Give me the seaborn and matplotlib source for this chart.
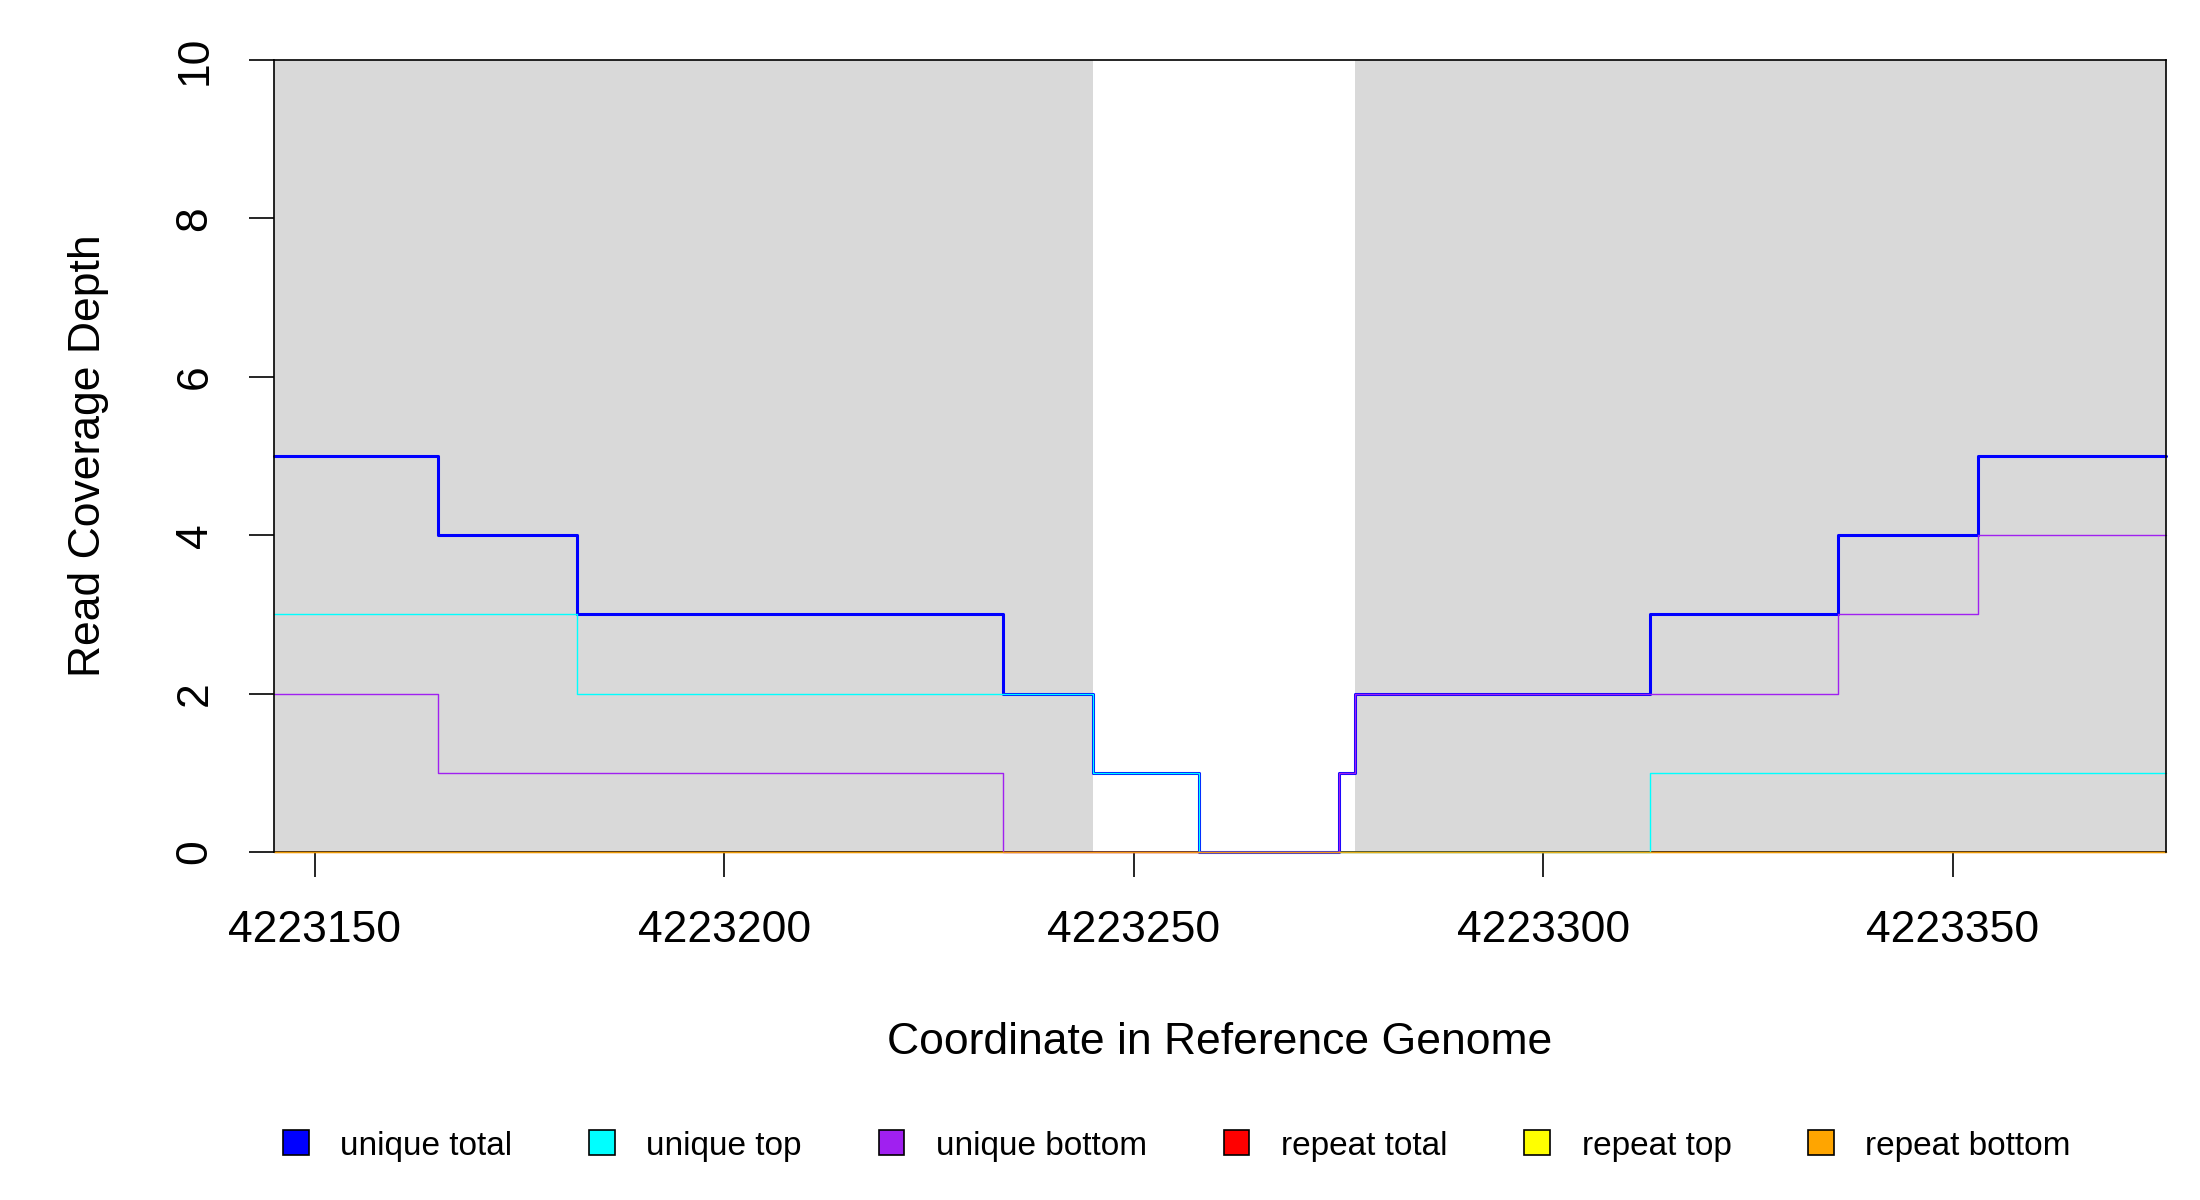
import matplotlib
matplotlib.use("Agg")
import matplotlib.pyplot as plt
from matplotlib.patches import Patch
import seaborn as sns

sns.set_theme(style="white")
plt.rcParams["font.family"] = ["Liberation Sans", "DejaVu Sans"]
plt.rcParams.update({
    "text.color": "black",
    "axes.labelcolor": "black",
    "xtick.color": "black",
    "ytick.color": "black",
})

# --- Data ---
edges = [4223145, 4223165, 4223182, 4223234, 4223245, 4223258,
         4223275, 4223277, 4223313, 4223336, 4223353, 4223376]
unique_total = [5, 4, 3, 2, 1, 0, 1, 2, 3, 4, 5]
unique_top = [3, 3, 2, 2, 1, 0, 0, 0, 1, 1, 1]
unique_bottom = [2, 1, 1, 0, 0, 0, 1, 2, 2, 3, 4]
repeat_total = [0] * 11
repeat_top = [0] * 11
repeat_bottom = [0] * 11

shaded = [(4223145, 4223245), (4223277, 4223376)]
xticks = [4223150, 4223200, 4223250, 4223300, 4223350]
yticks = [0, 2, 4, 6, 8, 10]

series = [
    ("unique total", unique_total, "#0000FF", 2.2, 1.0),
    ("unique top", unique_top, "#00FFFF", 1.0, 1.0),
    ("unique bottom", unique_bottom, "#A020F0", 1.0, 1.0),
    ("repeat total", repeat_total, "#FF0000", 1.0, 0.5),
    ("repeat top", repeat_top, "#FFFF00", 1.0, 0.5),
    ("repeat bottom", repeat_bottom, "#FFA500", 1.0, 0.6),
]

fig = plt.figure(figsize=(22, 12), dpi=100)
ax = fig.add_axes([0.1245, 0.29, 0.86, 0.66])

for lo, hi in shaded:
    ax.axvspan(lo, hi, color="#D9D9D9", zorder=0, lw=0)

for name, vals, color, lw, alpha in series:
    sns.lineplot(x=edges, y=vals + [vals[-1]], ax=ax, color=color,
                 linewidth=lw, alpha=alpha, drawstyle="steps-post",
                 errorbar=None, legend=False, clip_on=False)

ax.set_xlim(edges[0], edges[-1])
ax.set_ylim(0, 10)
ax.set_xticks(xticks)
ax.set_xticklabels([str(t) for t in xticks], fontsize=32)
ax.set_yticks(yticks)
ax.set_yticklabels([str(t) for t in yticks], fontsize=32, rotation=90, va="center")
ax.tick_params(axis="both", direction="out", length=18, width=1.2,
               color="black", pad=24, left=True, bottom=True)

for sp in ax.spines.values():
    sp.set_color("black")
    sp.set_linewidth(1.2)
ax.spines["bottom"].set_zorder(1)

ax.set_xlabel("Coordinate in Reference Genome", fontsize=32)
ax.set_ylabel("Read Coverage Depth", fontsize=32)
ax.xaxis.set_label_coords(0.5, -0.241)
ax.xaxis.label.set_va("center")
ax.yaxis.set_label_coords(-0.098, 0.5)
ax.yaxis.label.set_va("center")

handles = [Patch(facecolor=c, edgecolor="black", linewidth=1.2, label=n)
           for n, _, c, _, _ in series]
fig.legend(handles=handles, loc="center", bbox_to_anchor=(0.535, 0.045),
           ncol=6, frameon=False, fontsize=24, handlelength=0.77,
           handleheight=0.77, handletextpad=0.95, columnspacing=2.3)

plt.savefig("out.png", dpi=100)
plt.close()
